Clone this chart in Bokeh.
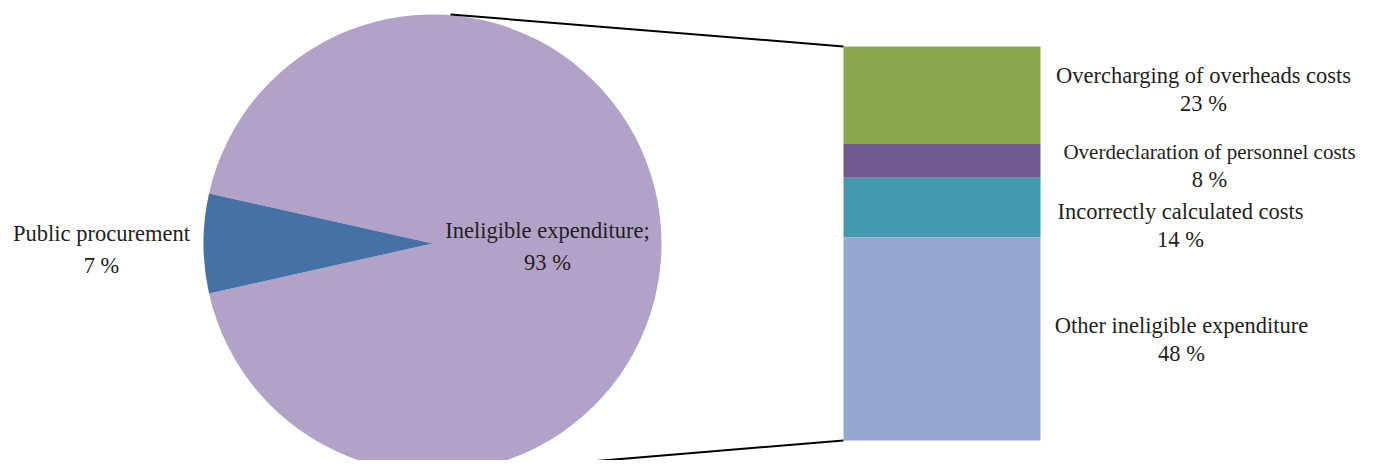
import math
from bokeh.plotting import figure
from bokeh.models import Range1d
from bokeh.core.properties import value
from bokeh.embed import file_html
from bokeh.resources import INLINE

# ---- data ----
pie_categories = ["Ineligible expenditure;", "Public procurement"]
pie_values = [93, 7]
pie_colors = ["#B3A2C7", "#4571A6"]

bar_categories = ["Overcharging of overheads costs", "Overdeclaration of personnel costs",
                  "Incorrectly calculated costs", "Other ineligible expenditure"]
bar_values = [23, 8, 14, 48]
bar_colors = ["#8BA74E", "#72598F", "#4299B0", "#95A8D0"]

# ---- layout (pixel-like data coordinates; y measured up from figure bottom) ----
W, H = 1365, 460
def Y(sy):  # screen y -> data y
    return H - sy

p = figure(width=W, height=H, output_backend="svg", toolbar_location=None,
           x_range=Range1d(0, W), y_range=Range1d(0, H),
           min_border=0, min_border_left=0, min_border_right=0,
           min_border_top=0, min_border_bottom=0)
p.axis.visible = False
p.grid.visible = False
p.outline_line_color = None
p.background_fill_color = "white"
p.border_fill_color = "white"

font = value("Liberation Serif")
fsize = "22.5px"
tcolor = "#231F20"

# pie
cx, cy, r = 432, Y(243), 229
total = sum(pie_values)
pp_span = 2 * math.pi * pie_values[1] / total
pp_start = math.pi - pp_span / 2
pp_end = math.pi + pp_span / 2
starts = [pp_end, pp_start]
ends = [pp_start + 2 * math.pi, pp_end]
p.wedge(x=[cx, cx], y=[cy, cy], radius=r, start_angle=starts, end_angle=ends,
        fill_color=pie_colors, line_color=None)

# bar (stacked, top to bottom)
bx0, bx1 = 843, 1040
btop, bbot = Y(46), Y(440)
unit = (btop - bbot) / sum(bar_values)
tops, bots = [], []
cur = btop
for v in bar_values:
    tops.append(cur)
    cur -= v * unit
    bots.append(cur)
p.quad(left=bx0, right=bx1, top=tops, bottom=bots, fill_color=bar_colors, line_color=None)

# connector lines
p.line(x=[450, bx0], y=[Y(14), btop], line_color="black", line_width=2)
p.line(x=[482, bx0], y=[Y(470), bbot], line_color="black", line_width=2)

# pie labels
pie_lab_x = [547, 101]
pie_lab_y = [230, 233]
for i in range(2):
    p.text(x=[pie_lab_x[i]], y=[Y(pie_lab_y[i])], text=[pie_categories[i]],
           text_font=font, text_font_size=fsize, text_color=tcolor,
           text_align="center", text_baseline="middle")
    p.text(x=[pie_lab_x[i]], y=[Y(pie_lab_y[i] + 32)], text=[f"{pie_values[i]} %"],
           text_font=font, text_font_size=fsize, text_color=tcolor,
           text_align="center", text_baseline="middle")

# bar labels
bar_lab_x = [1203, 1209, 1180, 1181]
bar_lab_y = [75, 151, 211, 325]
bar_lab_size = [fsize, "21px", fsize, fsize]
for i in range(4):
    p.text(x=[bar_lab_x[i]], y=[Y(bar_lab_y[i])], text=[bar_categories[i]],
           text_font=font, text_font_size=bar_lab_size[i], text_color=tcolor,
           text_align="center", text_baseline="middle")
    p.text(x=[bar_lab_x[i]], y=[Y(bar_lab_y[i] + 28)], text=[f"{bar_values[i]} %"],
           text_font=font, text_font_size=fsize, text_color=tcolor,
           text_align="center", text_baseline="middle")

open("out.html", "w").write(file_html(p, INLINE))
